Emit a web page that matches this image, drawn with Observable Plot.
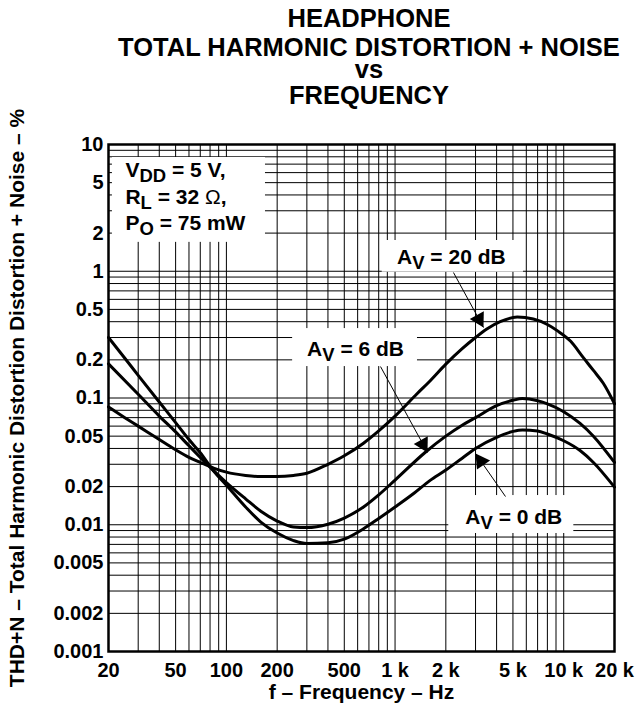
<!DOCTYPE html>
<html><head><meta charset="utf-8">
<script src="https://cdn.jsdelivr.net/npm/d3@7"></script>
<script src="https://cdn.jsdelivr.net/npm/@observablehq/plot@0.6"></script>
<style>
html,body{margin:0;padding:0;background:#fff;overflow:hidden}
#wrap{position:relative;width:643px;height:708px;font-family:"Liberation Sans",Arial,Helvetica,sans-serif;font-weight:bold;color:#000}
.t{position:absolute;left:369px;transform:translateX(-50%);white-space:nowrap;font-size:25.5px;line-height:20px}
#chart{position:absolute;left:0;top:0}
</style></head><body>
<div id="wrap"><div id="chart"></div>
<div class="t" style="top:7.75px">HEADPHONE</div>
<div class="t" style="top:36.75px">TOTAL HARMONIC DISTORTION + NOISE</div>
<div class="t" style="top:58.75px">vs</div>
<div class="t" style="top:84.75px">FREQUENCY</div>
</div>
<script>
// ---- data ----
const freq0 = [20,25,30,40,50,60,70,84,100,130,160,200,250,300,400,500,650,800,1000,1300,1600,2000,2500,3000,4000,5000,5700,7000,8000,10000,12500,15000,20000];
const thd0  = [0.30,0.206,0.151,0.093,0.064,0.047,0.037,0.0265,0.0205,0.0138,0.0105,0.0086,0.0075,0.0071,0.0072,0.0077,0.0093,0.0112,0.0138,0.0178,0.0222,0.027,0.0335,0.040,0.049,0.0545,0.056,0.055,0.052,0.046,0.0385,0.031,0.0198];

const freq6 = [20,30,40,50,60,80,100,130,160,200,250,300,400,500,650,800,1000,1500,2000,2500,3000,4000,5000,5700,7000,8000,10000,12500,15000,20000];
const thd6  = [0.186,0.107,0.072,0.054,0.042,0.0285,0.0215,0.016,0.0128,0.0107,0.0096,0.0095,0.0101,0.0113,0.0138,0.0172,0.0225,0.037,0.050,0.061,0.070,0.087,0.096,0.099,0.095,0.090,0.078,0.063,0.050,0.031];

const freq20 = [20,25,30,40,50,60,70,84,100,130,160,200,250,300,400,500,650,800,1000,1350,1600,2000,2500,3000,3500,4200,5300,6600,8000,9150,11000,13000,15000,17200,20000];
const thd20  = [0.085,0.070,0.060,0.047,0.039,0.034,0.031,0.028,0.026,0.0245,0.024,0.024,0.0245,0.0255,0.030,0.035,0.044,0.055,0.072,0.108,0.135,0.185,0.245,0.30,0.35,0.40,0.435,0.42,0.38,0.34,0.28,0.21,0.165,0.13,0.09];

const xTicks = [20,50,100,200,500,1000,2000,5000,10000,20000];
const yTicks = [10,5,2,1,0.5,0.2,0.1,0.05,0.02,0.01,0.005,0.002,0.001];
const xGrid = [30,40,50,60,70,80,90,100,200,300,400,500,600,700,800,900,1000,2000,3000,4000,5000,6000,7000,8000,9000,10000];
const yGrid = [0.001,0.01,0.1,1].flatMap(d => [2,3,4,5,6,7,8,9].map(k => +(k*d).toPrecision(3))).concat([0.01,0.1,1]);

const conditions = [
  {label:"V_{DD} = 5 V,", f:25.2, v:6.215},
  {label:"R_{L} = 32 Ω,", f:25.2, v:3.833},
  {label:"P_{O} = 75 mW", f:25.2, v:2.389}
];
const notes = [
  {label:"A_{V} = 20 dB", f:2156, v:1.296},
  {label:"A_{V} = 6 dB",  f:583,  v:0.2435},
  {label:"A_{V} = 0 dB",  f:5058, v:0.01145}
];
const boxes = [
  {f1:21.1, f2:170.5, v1:1.69,  v2:7.9},
  {f1:839,  f2:5772,  v1:0.983, v2:1.748},
  {f1:247,  f2:1358,  v1:0.177, v2:0.353},
  {f1:2082, f2:11476, v1:0.00853, v2:0.017}
];
const leaders = [
  {f1:2220, v1:0.977,  f2:3344, v2:0.36},
  {f1:820,  v1:0.177,  f2:1557, v2:0.0372},
  {f1:4516, v1:0.0167, f2:3000, v2:0.0365}
];
const xTitle = "f – Frequency – Hz";
const yTitle = "THD+N – Total Harmonic Distortion Distortion + Noise – %";

const rows = [
  ...freq0.map((f,i)=>({f, v:thd0[i], s:"0 dB"})),
  ...freq6.map((f,i)=>({f, v:thd6[i], s:"6 dB"})),
  ...freq20.map((f,i)=>({f, v:thd20[i], s:"20 dB"}))
];

const W = 643, H = 708, mL = 108, mR = 29, mT = 144, mB = 57;
const xs = d3.scaleLog([20,20000],[mL, W-mR]);
const ys = d3.scaleLog([0.001,10],[H-mB, mT]);
const angle = d => Math.atan2(xs(d.f2)-xs(d.f1), -(ys(d.v2)-ys(d.v1))) * 180 / Math.PI;
const triangle = {draw(ctx, l) { const w = 8; ctx.moveTo(0,-l); ctx.lineTo(-w,0); ctx.lineTo(w,0); ctx.closePath(); }};
const fmtX = d => d >= 1000 ? (d/1000) + " k" : String(d);

const font = '"Liberation Sans", Arial, Helvetica, sans-serif';
const chart = Plot.plot({
  width: W, height: H,
  marginLeft: mL, marginRight: mR, marginTop: mT, marginBottom: mB,
  x: {type:"log", domain:[20,20000], axis:null},
  y: {type:"log", domain:[0.001,10], axis:null},
  style: {fontFamily: font, fontWeight: "bold", fontSize: "20px", color: "black", background: "white", overflow: "visible"},
  marks: [
    Plot.ruleX(xGrid, {stroke:"black", strokeWidth:1}),
    Plot.ruleY(yGrid, {stroke:"black", strokeWidth:1}),
    Plot.rect(boxes, {x1:"f1", x2:"f2", y1:"v1", y2:"v2", fill:"white"}),
    Plot.line(rows, {x:"f", y:"v", z:"s", stroke:"black", strokeWidth:3, curve:"monotone-x", strokeLinejoin:"round"}),
    Plot.frame({stroke:"black", strokeWidth:2.5}),
    Plot.link(leaders, {x1:"f1", y1:"v1", x2:"f2", y2:"v2", stroke:"black", strokeWidth:1}),
    Plot.vector(leaders, {x:"f2", y:"v2", rotate: angle, length:14, anchor:"end", shape: triangle, fill:"black", stroke:"none"}),
    Plot.text(xTicks, {x: d => d, frameAnchor:"bottom", lineAnchor:"top", textAnchor:"middle", dy:11, text: fmtX, fontSize:20, fill:"black"}),
    Plot.text(yTicks, {y: d => d, frameAnchor:"left", lineAnchor:"middle", textAnchor:"end", dx:-5, text: d => String(d), fontSize:20, fill:"black"}),
    Plot.text([xTitle], {frameAnchor:"bottom", lineAnchor:"middle", textAnchor:"middle", dy:41, fontSize:21, fill:"black"}),
    Plot.text([yTitle], {frameAnchor:"left", lineAnchor:"middle", textAnchor:"middle", rotate:-90, dx:-91.5, fontSize:21, fill:"black"}),
    Plot.text(conditions, {x:"f", y:"v", text:"label", textAnchor:"start", fontSize:21, fill:"black"}),
    Plot.text(notes, {x:"f", y:"v", text:"label", textAnchor:"middle", fontSize:21, fill:"black"})
  ]
});
document.getElementById("chart").appendChild(chart);

// subscripts: turn "X_{sub}" into tspans; Ω drawn in regular weight
const NS = "http://www.w3.org/2000/svg";
chart.querySelectorAll("text").forEach(el => {
  if (el.children.length || !el.textContent.includes("_{")) return;
  const parts = el.textContent.split(/(_\{[^}]*\}|Ω)/).filter(p => p);
  el.textContent = "";
  let prevSub = false;
  for (const p of parts) {
    const ts = document.createElementNS(NS, "tspan");
    if (p.startsWith("_{")) {
      ts.textContent = p.slice(2, -1);
      ts.setAttribute("dy", "5");
      ts.setAttribute("font-size", "0.88em");
      prevSub = true;
    } else {
      ts.textContent = p;
      if (p === "Ω") ts.setAttribute("font-weight", "normal");
      if (prevSub) ts.setAttribute("dy", "-5");
      prevSub = false;
    }
    el.appendChild(ts);
  }
});
</script>
</body></html>
